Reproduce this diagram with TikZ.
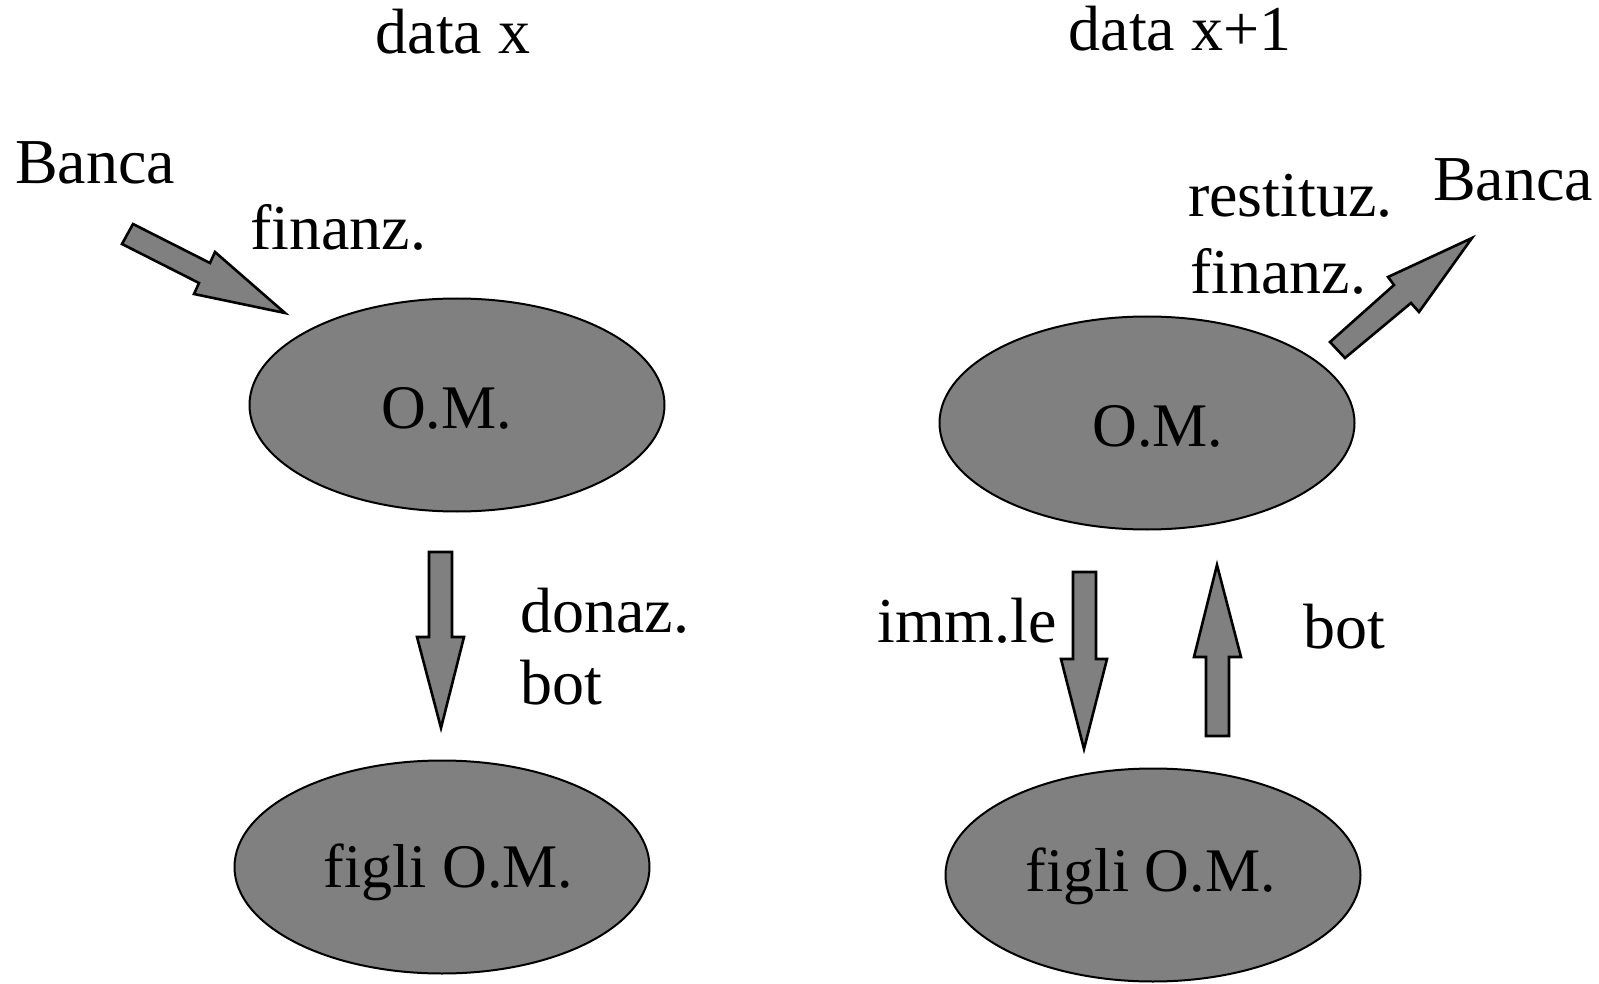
\documentclass[tikz,border=0pt]{standalone}
\usepackage{fontspec}
\setmainfont{Liberation Serif}
\usetikzlibrary{shapes.geometric}
\begin{document}
\begin{tikzpicture}[x=1pt,y=-1pt,
  txt/.style={inner sep=0pt,font=\fontsize{64}{76}\selectfont},
  intxt/.style={inner sep=0pt,anchor=base,font=\fontsize{62}{74}\selectfont},
  blob/.style={ellipse,draw=black,line width=2pt,fill=gray50,inner sep=0pt,
    minimum width=415pt,minimum height=213pt},
  blockarrow/.style={draw=black,fill=gray50,line width=2.6pt,line join=miter}]
\definecolor{gray50}{HTML}{808080}
\useasboundingbox (0,0) rectangle (1599,984);
% ellipses
\node[blob] (omL) at (457,405) {};
\node[blob] (figL) at (442,867) {};
\node[blob] (omR) at (1147,423) {};
\node[blob] (figR) at (1153,875) {};
\node[intxt] (omLt) at ([xshift=-10.5pt,yshift=-23.3pt]omL.center) {O.M.};
\node[intxt] (figLt) at ([xshift=6.3pt,yshift=-20.3pt]figL.center) {figli O.M.};
\node[intxt] (omRt) at ([xshift=10.8pt,yshift=-23.7pt]omR.center) {O.M.};
\node[intxt] (figRt) at ([xshift=-2.2pt,yshift=-16.7pt]figR.center) {figli O.M.};
% titles
\node[txt,anchor=base] (dx) at (453,54) {data x};
\node[txt,anchor=base] (dx1) at (1180,51) {data x+1};
% left labels
\node[txt,anchor=base west] (bancaL) at (15,184) {Banca};
\node[txt,anchor=base west] (finL) at (250,250) {finanz.};
\node[txt,anchor=base west] (donaz) at (520,632) {donaz.};
\node[txt,anchor=base west] (botL) at (520,704) {bot};
% right labels
\node[txt,anchor=base west] (rest) at (1188,217) {restituz.};
\node[txt,anchor=base west] (finR) at (1190,294) {finanz.};
\node[txt,anchor=base west] (bancaR) at (1433,201) {Banca};
\node[txt,anchor=base west] (imm) at (877,642) {imm.le};
\node[txt,anchor=base west] (botR) at (1303,648) {bot};
% block arrows
\draw[blockarrow] (133,224) -- (210,263) -- (215,252) -- (285,313) -- (194,294) -- (199,283) -- (122,244) -- cycle;
\draw[blockarrow] (1330,342) -- (1394,285) -- (1388,277) -- (1472,238) -- (1419,312) -- (1411,303) -- (1345,358) -- cycle;
\draw[blockarrow] (429,552) -- (452,552) -- (452,637) -- (464,637) -- (441,728) -- (417,637) -- (429,637) -- cycle;
\draw[blockarrow] (1073,572) -- (1096,572) -- (1096,659) -- (1107,659) -- (1084,749) -- (1061,659) -- (1073,659) -- cycle;
\draw[blockarrow] (1206,736) -- (1229,736) -- (1229,657) -- (1241,657) -- (1217,565) -- (1194,657) -- (1206,657) -- cycle;
\end{tikzpicture}
\end{document}
